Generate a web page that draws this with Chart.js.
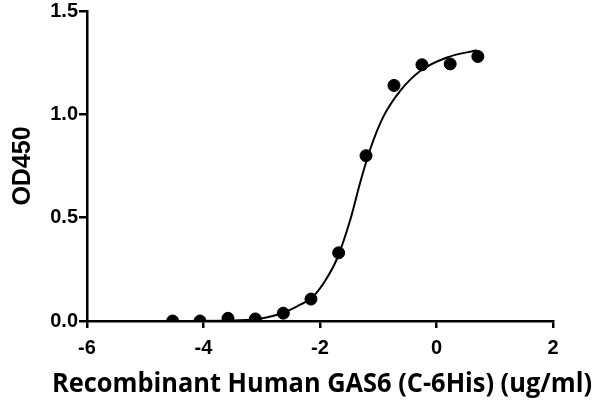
<!DOCTYPE html>
<html>
<head>
<meta charset="utf-8">
<script src="https://cdn.jsdelivr.net/npm/chart.js@4.4.1/dist/chart.umd.min.js"></script>
<style>
  html, body { margin: 0; padding: 0; background: #fff; }
  #wrap { width: 600px; height: 400px; }
</style>
</head>
<body>
<div id="wrap"><canvas id="chart"></canvas></div>
<script>
// measured points (log concentration vs OD450)
const logConc = [-4.53, -4.06, -3.58, -3.11, -2.63, -2.155, -1.68, -1.21, -0.73, -0.25, 0.235, 0.71];
const od450 = [0.0, 0.0, 0.013, 0.01, 0.038, 0.106, 0.33, 0.80, 1.14, 1.24, 1.244, 1.28];

// fitted curve
const curveX = [-4.53, -3.5, -3.1, -2.9, -2.69, -2.4, -2.115, -1.9, -1.71, -1.48, -1.31, -1.14, -0.91, -0.62, -0.28, 0.18, 0.69];
const curveY = [0.0, 0.002, 0.008, 0.018, 0.034, 0.07, 0.12, 0.2, 0.30, 0.49, 0.67, 0.83, 0.99, 1.115, 1.21, 1.275, 1.31];

const xTitle = 'Recombinant Human GAS6 (C-6His) (ug/ml)';
const yTitle = 'OD450';

const toXY = (xs, ys) => xs.map((x, i) => ({ x: x, y: ys[i] }));
const tickFont = { family: '"Liberation Sans", Arial, sans-serif', weight: 'bold', size: 20, lineHeight: 1 };

// the x title runs wider than the axis, so the scale title would squeeze it
const xTitlePlugin = {
    id: 'xTitle',
    afterDraw(chart) {
        const ctx = chart.ctx;
        ctx.save();
        ctx.font = 'bold 26px "Open Sans", sans-serif';
        ctx.fillStyle = '#000';
        ctx.textAlign = 'center';
        ctx.textBaseline = 'alphabetic';
        ctx.fillText(xTitle, 322, 392, 540);
        ctx.restore();
    }
};

new Chart(document.getElementById('chart'), {
    type: 'scatter',
    data: {
        datasets: [
            {
                data: toXY(curveX, curveY),
                showLine: true,
                borderColor: '#000',
                borderWidth: 2,
                pointRadius: 0,
                cubicInterpolationMode: 'monotone',
                fill: false
            },
            {
                data: toXY(logConc, od450),
                pointRadius: 6,
                pointBackgroundColor: '#000',
                pointBorderColor: '#000',
                showLine: false
            }
        ]
    },
    plugins: [xTitlePlugin],
    options: {
        responsive: true,
        maintainAspectRatio: false,
        animation: false,
        layout: { padding: { top: 0, right: 47, left: 4, bottom: 0 } },
        plugins: { legend: { display: false }, tooltip: { enabled: false } },
        scales: {
            x: {
                type: 'linear',
                min: -6, max: 2,
                ticks: { stepSize: 2, color: '#000', font: tickFont, padding: 10 },
                grid: { drawOnChartArea: false, drawTicks: true, tickLength: 7, color: '#000', lineWidth: 2.5 },
                border: { color: '#000', width: 2.5 },
                afterFit: s => { s.height = 79; }
            },
            y: {
                min: 0, max: 1.5,
                ticks: { stepSize: 0.5, color: '#000', font: tickFont, padding: 1, callback: v => v.toFixed(1) },
                grid: { drawOnChartArea: false, drawTicks: true, tickLength: 8, color: '#000', lineWidth: 2.5 },
                border: { color: '#000', width: 2.5 },
                title: { display: true, text: yTitle, color: '#000', font: { family: '"Liberation Sans", Arial, sans-serif', weight: 'bold', size: 25 }, padding: { bottom: 4 } },
                afterFit: s => { s.width = 83; }
            }
        }
    }
});
</script>
</body>
</html>
